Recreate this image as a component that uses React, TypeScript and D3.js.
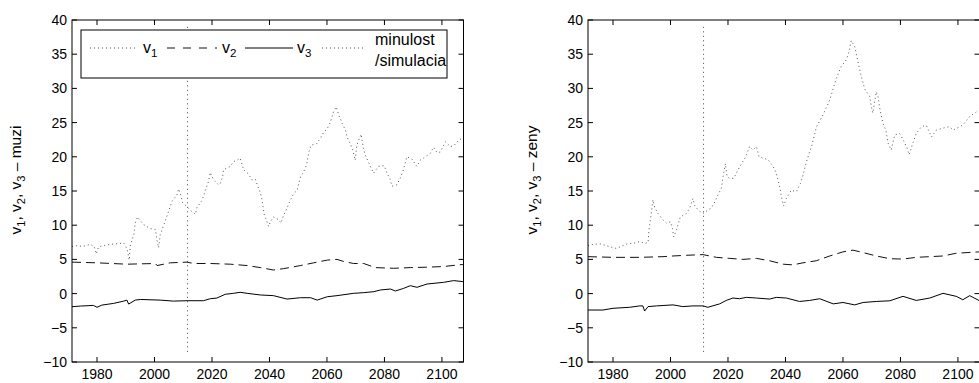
import React from "react";
import * as d3 from "d3";

// ---------- data ----------
const xTicks = [1980, 2000, 2020, 2040, 2060, 2080, 2100];
const yTicks = [-10, -5, 0, 5, 10, 15, 20, 25, 30, 35, 40];
const xDomain = [1971.3, 2107.5];
const yDomain = [-10, 40];
const boundaryYear = 2011.5;

const muziV1: [number, number][] = [
  [1971.3, 6.9], [1973, 7.0], [1975, 6.9], [1977.7, 7.2], [1979, 6.9], [1979.8, 5.8], [1980.5, 6.8], [1982, 7.0],
  [1984.6, 7.2], [1987, 7.3], [1989.3, 7.4], [1990.5, 6.5], [1991.2, 4.9], [1991.6, 7.1], [1992.8, 8.6], [1993.3, 10.3],
  [1994.1, 11.2], [1994.8, 10.8], [1996.2, 10.1], [1998.5, 9.5], [2000.3, 9.4], [2000.9, 7.8], [2001.4, 6.7], [2002, 8.6],
  [2003.8, 10.7], [2006.1, 13.5], [2007.8, 14.4], [2008.4, 15.3], [2009.2, 14.3], [2009.8, 13.3], [2011.3, 12.7],
  [2012.7, 12.1], [2014.2, 11.6], [2014.8, 12.6], [2016.5, 13.6], [2017.3, 14.6], [2018.8, 16.4], [2019.4, 17.7],
  [2020.6, 16.6], [2022.3, 15.9], [2022.9, 16.1], [2023.7, 17.1], [2024, 18.1], [2026.4, 18.6], [2027.5, 19.3],
  [2028.7, 19.5], [2029.8, 19.8], [2031, 18.1], [2032.7, 17.5], [2033.9, 16.6], [2035.1, 16.7], [2036, 15.6],
  [2036.8, 14.8], [2037.4, 13.7], [2038.2, 11.5], [2038.9, 10.8], [2039.7, 9.8], [2040.3, 10.5], [2041.4, 11.2],
  [2043.2, 10.8], [2044, 10.3], [2044.7, 11.2], [2046.1, 12.5], [2047.3, 13.7], [2048.4, 14.6], [2049.6, 15.1],
  [2050.2, 16.1], [2050.8, 17.1], [2051.9, 17.8], [2052.9, 18.8], [2053.7, 20.7], [2054.5, 21.7], [2056.4, 21.9],
  [2057.8, 22.8], [2058.9, 23.6], [2060.1, 24.1], [2061.2, 25.1], [2062.3, 26.6], [2063.2, 27.3], [2064.2, 26.0],
  [2065.4, 24.8], [2066.4, 23.9], [2067, 22.9], [2068.1, 21.9], [2069, 21.0], [2069.8, 19.5], [2070.4, 21.7],
  [2071.3, 22.7], [2071.9, 23.3], [2072.7, 21.2], [2073.3, 20.3], [2075.1, 18.6], [2076.2, 17.6], [2077.9, 18.6],
  [2079.9, 18.7], [2080.9, 17.6], [2082, 16.7], [2082.6, 15.7], [2084.3, 15.9], [2085.5, 16.9], [2086.6, 18.1],
  [2087.8, 20.0], [2089.5, 19.7], [2091.3, 18.6], [2092.4, 19.5], [2094.2, 20.0], [2095.9, 20.5], [2097.1, 21.4],
  [2098.3, 20.6], [2099.4, 20.7], [2101.2, 22.2], [2102.9, 21.5], [2104.1, 21.6], [2105.8, 22.4], [2107.3, 22.8],
];

const muziV2: [number, number][] = [
  [1971.3, 4.6], [1980, 4.5], [1990.4, 4.3], [2000.3, 4.4], [2000.9, 4.1], [2005.5, 4.5], [2011.3, 4.6],
  [2013.6, 4.4], [2019.4, 4.4], [2026.4, 4.3], [2032.2, 4.1], [2036.8, 3.8], [2041.4, 3.45], [2044.9, 3.65],
  [2050.8, 4.1], [2055.4, 4.5], [2060.1, 4.9], [2063.5, 5.0], [2065.8, 4.7], [2069.3, 4.4], [2072.8, 4.4],
  [2076.8, 3.8], [2083.2, 3.7], [2089, 3.8], [2094.8, 3.86], [2100.6, 3.96], [2105.8, 4.2], [2107.3, 4.25],
];

const muziV3: [number, number][] = [
  [1971.3, -1.92], [1974.2, -1.82], [1978.8, -1.73], [1980, -2.0], [1981.7, -1.68], [1985.8, -1.43], [1989.3, -1.1],
  [1990.4, -0.95], [1991, -1.53], [1993.3, -0.95], [1995.1, -0.86], [2002, -0.95], [2006.6, -1.1], [2011.3, -1.04],
  [2017, -1.04], [2019.4, -0.75], [2021.7, -0.65], [2024.6, -0.1], [2027.5, 0.04], [2029.8, 0.19], [2032.2, 0.04],
  [2036.8, -0.2], [2041.4, -0.3], [2046.1, -0.8], [2050.8, -0.6], [2054.3, -0.6], [2056.6, -0.95], [2060.1, -0.46],
  [2063.5, -0.3], [2069.3, 0.04], [2072.8, 0.14], [2076.3, 0.28], [2078.6, 0.53], [2082.1, 0.67], [2083.8, 0.38],
  [2086.7, 0.77], [2089, 1.16], [2091.3, 0.92], [2094.8, 1.4], [2100.6, 1.65], [2104.1, 1.9], [2107.3, 1.75],
];

const zenyV1: [number, number][] = [
  [1971.3, 7.0], [1973.6, 7.25], [1976, 7.25], [1978.5, 6.9], [1981.2, 6.6], [1984.7, 7.25], [1987, 7.35],
  [1989.3, 7.6], [1991, 7.35], [1992.2, 7.45], [1992.5, 9.3], [1993, 10.75], [1993.9, 13.7], [1994.5, 12.6],
  [1995.7, 11.7], [1997.2, 10.85], [1998.6, 10.3], [2000, 10.5], [2000.7, 9.5], [2001.1, 8.3], [2002.1, 9.3],
  [2003.4, 11.2], [2005.5, 11.7], [2006.7, 12.5], [2007.8, 13.9], [2008.4, 12.9], [2009.6, 12.2], [2011.3, 11.7],
  [2013, 12.2], [2014.2, 12.5], [2015.4, 13.4], [2016.5, 14.4], [2017.7, 15.4], [2018.3, 17.1], [2019.1, 19.0],
  [2019.7, 17.1], [2020.6, 16.85], [2022, 16.85], [2023.5, 18.1], [2024.7, 19.0], [2026.2, 20.0], [2027.5, 21.5],
  [2028.7, 21.0], [2029.9, 21.5], [2030.8, 20.0], [2032.2, 19.8], [2033.9, 19.6], [2035.7, 18.6], [2036.8, 17.6],
  [2037.4, 16.6], [2038, 15.6], [2038.6, 14.1], [2039.4, 12.8], [2040.3, 13.9], [2042, 15.1], [2043.8, 14.9],
  [2045.2, 16.1], [2046.1, 17.3], [2047.1, 19.0], [2048.2, 20.5], [2049.1, 21.5], [2049.9, 22.9], [2050.8, 24.4],
  [2053, 26.1], [2055.4, 28.3], [2057.7, 31.5], [2059.4, 33.2], [2061.2, 34.2], [2062.1, 35.4], [2062.9, 37.0],
  [2064.1, 36.1], [2065.2, 33.9], [2066.4, 31.7], [2067.6, 29.9], [2069.3, 28.8], [2069.9, 27.3], [2070.4, 26.4],
  [2071.6, 29.5], [2072.2, 28.8], [2072.8, 27.1], [2073.9, 24.9], [2074.9, 23.9], [2075.7, 22.0], [2076.8, 21.0],
  [2078, 23.2], [2079.7, 23.4], [2080.9, 22.5], [2082.3, 21.3], [2083, 20.3], [2084.3, 22.0], [2085.5, 23.4],
  [2087.3, 24.4], [2089, 24.6], [2090.8, 22.9], [2092.5, 23.9], [2094.8, 24.2], [2097.1, 24.4], [2098.3, 23.9],
  [2100.6, 24.4], [2101.7, 24.65], [2104.1, 25.9], [2107.3, 26.8],
];

const zenyV2: [number, number][] = [
  [1971.3, 5.4], [1980, 5.3], [1989.3, 5.3], [1997.4, 5.4], [2000.9, 5.5], [2005.5, 5.6], [2011.3, 5.7],
  [2016, 5.3], [2020.6, 5.15], [2025.2, 5.0], [2029.9, 5.15], [2034.5, 4.8], [2039.2, 4.3], [2042.6, 4.2],
  [2046.1, 4.5], [2050.7, 4.8], [2055.4, 5.5], [2060, 6.1], [2063.5, 6.35], [2067, 6.0], [2071.6, 5.5],
  [2076.3, 5.1], [2080.9, 5.05], [2085.5, 5.3], [2090.2, 5.4], [2094.8, 5.5], [2099.4, 5.9], [2107.3, 6.1],
];

const zenyV3: [number, number][] = [
  [1971.3, -2.4], [1976.5, -2.4], [1980, -2.15], [1985.8, -2.0], [1989.3, -1.8], [1990.4, -1.8], [1991, -2.55],
  [1992.2, -1.9], [1995.1, -1.8], [2000.9, -1.65], [2004.3, -1.9], [2007.8, -1.8], [2011.3, -1.8], [2013, -2.0],
  [2017.1, -1.5], [2019.4, -1.0], [2021.7, -0.65], [2024, -0.75], [2026.4, -0.55], [2029.9, -0.65], [2034.5, -0.8],
  [2036.8, -0.55], [2040.3, -0.65], [2044.9, -1.15], [2048.4, -1.0], [2051.9, -0.75], [2056.6, -1.5], [2060, -1.3],
  [2064.1, -1.65], [2067, -1.3], [2071.6, -1.15], [2076.3, -1.05], [2080.9, -0.4], [2085.5, -1.0], [2090.2, -0.65],
  [2094.8, 0.04], [2099.4, -0.4], [2101.7, -0.9], [2104.1, -0.3], [2107.3, -1.0],
];

const FONT = "'Liberation Sans', Arial, Helvetica, sans-serif";
const TOP = 20;
const BOTTOM = 362;
const TICK = 5;
const DOT_V1 = { stroke: "#555", strokeWidth: 1, strokeDasharray: "1 3" };
const DASH_V2 = { stroke: "#111", strokeWidth: 1, strokeDasharray: "9 5" };
const SOLID_V3 = { stroke: "#000", strokeWidth: 1 };

function YLabel({ x, y, suffix }: { x: number; y: number; suffix: string }) {
  return (
    <text
      transform={`translate(${x},${y}) rotate(-90)`}
      textAnchor="middle"
      fontFamily={FONT}
      fontSize={15.5}
      fill="#000"
    >
      v<tspan fontSize={11} dy={4}>1</tspan>
      <tspan dy={-4}>, v</tspan>
      <tspan fontSize={11} dy={4}>2</tspan>
      <tspan dy={-4}>, v</tspan>
      <tspan fontSize={11} dy={4}>3</tspan>
      <tspan dy={-4}>{" \u2013 " + suffix}</tspan>
    </text>
  );
}

function Panel({
  left,
  right,
  v1,
  v2,
  v3,
  suffix,
  legend,
}: {
  left: number;
  right: number;
  v1: [number, number][];
  v2: [number, number][];
  v3: [number, number][];
  suffix: string;
  legend: boolean;
}) {
  const x = d3.scaleLinear().domain(xDomain).range([left, right]);
  const y = d3.scaleLinear().domain(yDomain).range([BOTTOM, TOP]);
  const line = d3
    .line<[number, number]>()
    .x((d) => x(d[0]))
    .y((d) => y(d[1]));
  const clipId = `clip-${left}`;
  const lx = left + 9;
  return (
    <g>
      <defs>
        <clipPath id={clipId}>
          <rect x={left} y={TOP} width={right - left} height={BOTTOM - TOP} />
        </clipPath>
      </defs>
      <g clipPath={`url(#${clipId})`}>
        <line
          x1={x(boundaryYear)}
          x2={x(boundaryYear)}
          y1={y(39)}
          y2={y(-9)}
          stroke="#444"
          strokeWidth={1}
          strokeDasharray="1 3.5"
        />
        <path d={line(v1) || ""} fill="none" {...DOT_V1} />
        <path d={line(v2) || ""} fill="none" {...DASH_V2} />
        <path d={line(v3) || ""} fill="none" {...SOLID_V3} />
      </g>
      <rect x={left} y={TOP} width={right - left} height={BOTTOM - TOP} fill="none" stroke="#000" strokeWidth={1} />
      {xTicks.map((t) => (
        <g key={"xt" + t}>
          <line x1={x(t)} x2={x(t)} y1={BOTTOM} y2={BOTTOM - TICK} stroke="#000" />
          <line x1={x(t)} x2={x(t)} y1={TOP} y2={TOP + TICK} stroke="#000" />
          <text x={x(t)} y={BOTTOM + 17} textAnchor="middle" fontFamily={FONT} fontSize={14} fill="#000">
            {t}
          </text>
        </g>
      ))}
      {yTicks.map((t) => (
        <g key={"yt" + t}>
          <line x1={left} x2={left + TICK} y1={y(t)} y2={y(t)} stroke="#000" />
          <line x1={right} x2={right - TICK} y1={y(t)} y2={y(t)} stroke="#000" />
          <text x={left - 5} y={y(t) + 5} textAnchor="end" fontFamily={FONT} fontSize={14} fill="#000">
            {t < 0 ? "\u2212" + Math.abs(t) : t}
          </text>
        </g>
      ))}
      <YLabel x={left - 51} y={180} suffix={suffix} />
      {legend && (
        <g fontFamily={FONT} fill="#000">
          <rect x={lx} y={30} width={366} height={48} fill="#fff" stroke="#000" strokeWidth={1} />
          <line x1={lx + 9} x2={lx + 54} y1={48} y2={48} {...DOT_V1} />
          <text x={lx + 62} y={53} fontSize={16}>
            v<tspan fontSize={11.5} dy={4}>1</tspan>
          </text>
          <line x1={lx + 86} x2={lx + 136} y1={48} y2={48} {...DASH_V2} strokeDasharray="8 8" />
          <text x={lx + 141} y={53} fontSize={16}>
            v<tspan fontSize={11.5} dy={4}>2</tspan>
          </text>
          <line x1={lx + 164} x2={lx + 212} y1={48} y2={48} {...SOLID_V3} />
          <text x={lx + 216} y={53} fontSize={16}>
            v<tspan fontSize={11.5} dy={4}>3</tspan>
          </text>
          <line x1={lx + 241} x2={lx + 284} y1={48} y2={48} {...DOT_V1} />
          <text x={lx + 294} y={45} fontSize={16}>minulost</text>
          <text x={lx + 294} y={66} fontSize={16}>/simulacia</text>
        </g>
      )}
    </g>
  );
}

export default function App() {
  return (
    <svg
      width={979}
      height={383}
      style={{ position: "absolute", left: 0, top: 0, background: "#fff" }}
    >
      <rect x={0} y={0} width={979} height={383} fill="#fff" />
      <Panel left={72} right={463.5} v1={muziV1} v2={muziV2} v3={muziV3} suffix="muzi" legend={true} />
      <Panel left={588} right={979.5} v1={zenyV1} v2={zenyV2} v3={zenyV3} suffix="zeny" legend={false} />
    </svg>
  );
}
